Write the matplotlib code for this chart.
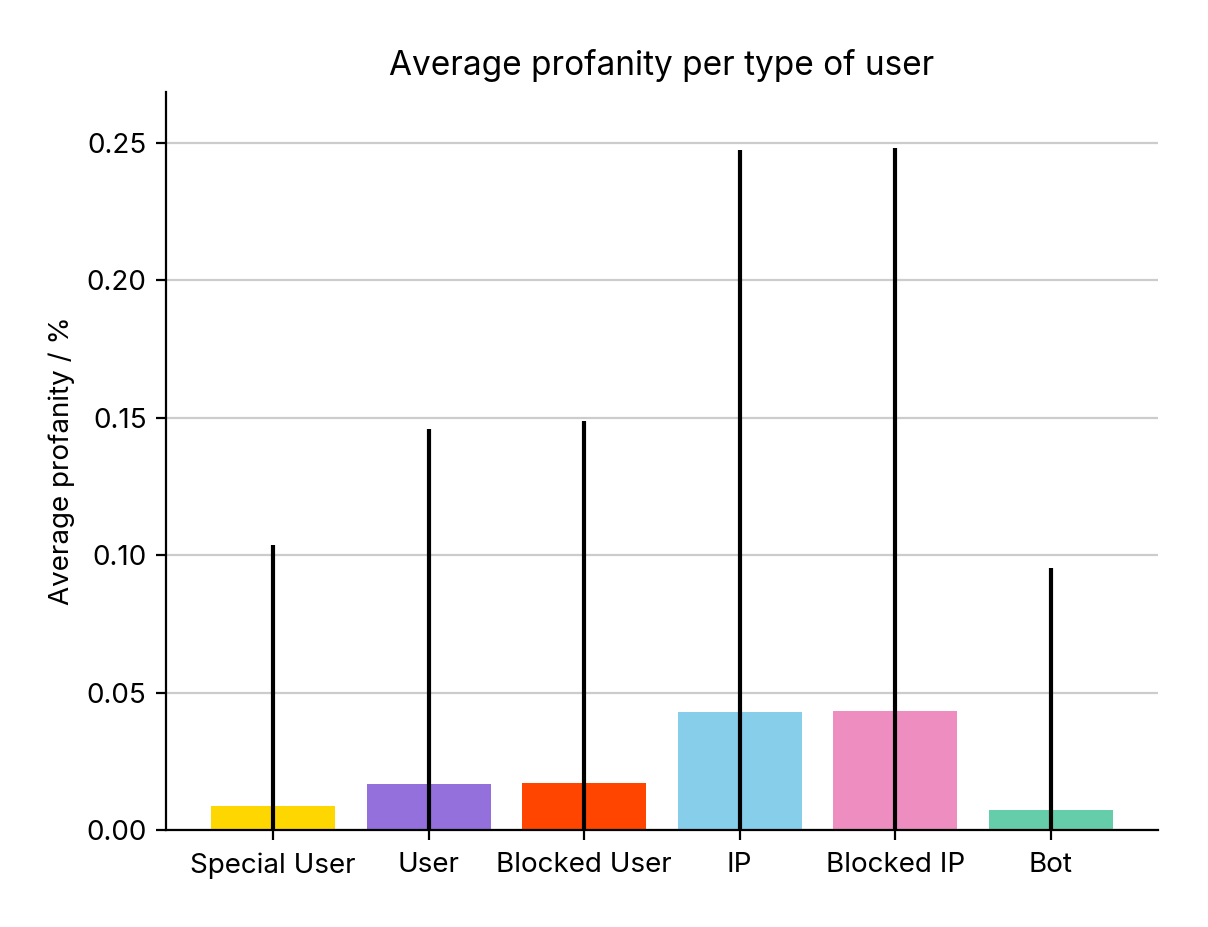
import matplotlib
matplotlib.use("Agg")
import matplotlib.pyplot as plt

plt.rcParams['font.family'] = ['Inter', 'DejaVu Sans']

user_types = ['Special User', 'User', 'Blocked User', 'IP', 'Blocked IP', 'Bot']
avg_profanity = [0.0087, 0.0168, 0.0171, 0.0430, 0.0433, 0.0073]
std_profanity = [0.0950, 0.1291, 0.1317, 0.2045, 0.2049, 0.0880]
colors = ['#FFD700', '#9370DB', '#FF4500', '#87CEEB', '#EE8EC0', '#66CDAA']

fig = plt.figure(figsize=(6.04, 4.635), dpi=200)
ax = fig.add_axes([166 / 1208, 1 - 830 / 927, (1158 - 166) / 1208, (830 - 92) / 927])

ax.bar(user_types, avg_profanity, color=colors, width=0.8,
       yerr=std_profanity, error_kw=dict(ecolor='black', elinewidth=1.5, capsize=0), zorder=2)

ax.set_ylim(0, 0.2686)
ax.set_xlim(-0.69, 5.69)
ax.set_yticks([0.0, 0.05, 0.10, 0.15, 0.20, 0.25])
ax.set_yticklabels(['0.00', '0.05', '0.10', '0.15', '0.20', '0.25'])
ax.grid(axis='y', color='#cccccc', linewidth=0.8, zorder=0)
ax.set_axisbelow(True)
ax.spines['top'].set_visible(False)
ax.spines['right'].set_visible(False)
ax.tick_params(labelsize=10)
ax.tick_params(axis='x', pad=4.5)
ax.set_ylabel('Average profanity / %', fontsize=10)
ax.set_title('Average profanity per type of user', fontsize=12, pad=6)

fig.savefig('out.png', dpi=200)
